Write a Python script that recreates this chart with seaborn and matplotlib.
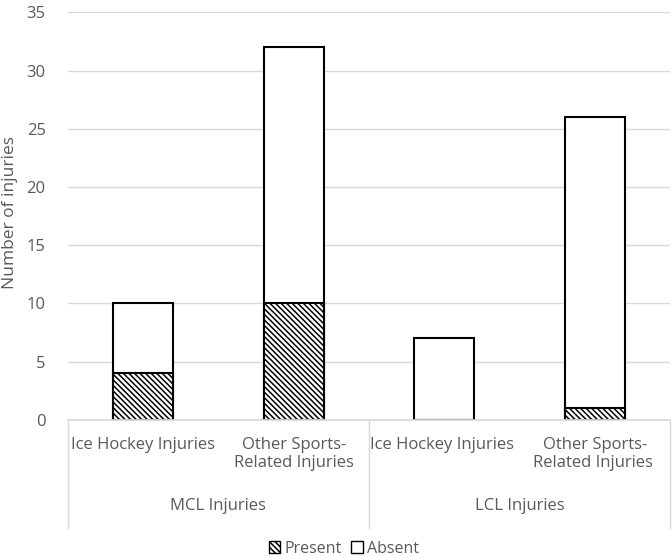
import pandas as pd
import matplotlib
matplotlib.use("Agg")
import matplotlib.pyplot as plt
import seaborn as sns
from matplotlib.patches import Patch

# values
groups = ["MCL Injuries", "MCL Injuries", "LCL Injuries", "LCL Injuries"]
categories = ["Ice Hockey Injuries", "Other Sports-\nRelated Injuries",
              "Ice Hockey Injuries ", "Other Sports-\nRelated Injuries "]
present = [4, 10, 0, 1]
absent = [6, 22, 7, 25]
yticks = [0, 5, 10, 15, 20, 25, 30, 35]

df = pd.DataFrame({"group": groups, "category": categories,
                   "present": present, "absent": absent})
df["total"] = df["present"] + df["absent"]

sns.set_theme(style="white")
plt.rcParams["font.family"] = ["Open Sans", "DejaVu Sans"]
plt.rcParams["hatch.linewidth"] = 1.1
text_color = "#595959"
fs = 12
hatch = "\\" * 6

fig = plt.figure(figsize=(6.72, 5.57), dpi=100)
ax = fig.add_axes([0.101, 0.246, 0.896, 0.732])

sns.barplot(data=df, x="category", y="total", color="white", edgecolor="black",
            linewidth=1.5, width=0.4, ax=ax, zorder=3)
sns.barplot(data=df, x="category", y="present", color="white", edgecolor="black",
            linewidth=1.5, width=0.4, ax=ax, hatch=hatch, zorder=4)

ax.set_ylim(0, 35)
ax.set_yticks(yticks)
ax.set_xlim(-0.5, 3.5)
ax.yaxis.grid(True, color="#d9d9d9", linewidth=1)
ax.set_axisbelow(True)
for s in ["top", "right", "left"]:
    ax.spines[s].set_visible(False)
ax.spines["bottom"].set_color("#d9d9d9")
ax.spines["bottom"].set_zorder(5)
ax.tick_params(axis="y", length=0, labelsize=fs, colors=text_color, pad=16)
ax.tick_params(axis="x", length=0, labelsize=fs, colors=text_color, pad=12)
ax.set_xlabel("")
ax.set_ylabel("Number of injuries", fontsize=12.5, color=text_color)
ax.yaxis.set_label_coords(-0.083, 0.51)

# category box: separators and group labels under the axis
trans = ax.get_xaxis_transform()
for xv in [-0.5, 1.5, 3.5]:
    ax.plot([xv, xv], [0, -0.265], transform=trans, color="#d9d9d9",
            linewidth=1, clip_on=False)
for xc, name in [(0.5, "MCL Injuries"), (2.5, "LCL Injuries")]:
    ax.text(xc, -0.21, name, transform=trans, ha="center", va="center",
            fontsize=fs, color=text_color)

handles = [Patch(facecolor="white", edgecolor="black", hatch=hatch, label="Present"),
           Patch(facecolor="white", edgecolor="black", label="Absent")]
leg = fig.legend(handles=handles, loc="lower center", ncol=2, frameon=False,
                 bbox_to_anchor=(0.512, -0.025), fontsize=11.5, handlelength=0.7,
                 handleheight=0.7, handletextpad=0.3, columnspacing=0.6)
for t in leg.get_texts():
    t.set_color(text_color)

fig.savefig("out.png", dpi=100)
